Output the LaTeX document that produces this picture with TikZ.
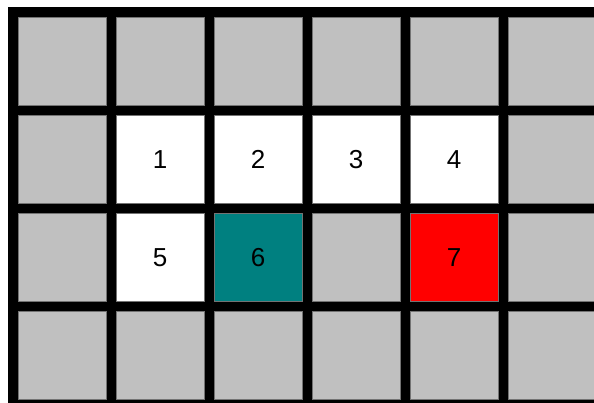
\documentclass[tikz,border=0pt]{standalone}
\usepackage{fontspec}
\setmainfont{Liberation Sans}
\definecolor{cellgray}{HTML}{C0C0C0}
\definecolor{cellteal}{HTML}{008080}
\definecolor{cellred}{HTML}{FF0000}
\begin{document}
\begin{tikzpicture}[x=1pt,y=-1pt,
  cell/.style={rectangle, anchor=north west, inner sep=0pt, minimum width=88pt, minimum height=88pt,
    fill=cellgray, draw=black!55, line width=0.4pt, font=\fontsize{26}{26}\selectfont},
  lastcol/.style={minimum width=86pt},
  white cell/.style={fill=white},
  teal cell/.style={fill=cellteal},
  red cell/.style={fill=cellred}]
\useasboundingbox (0,0) rectangle (594,403);
\fill[white] (0,0) rectangle (594,403);
\fill[black] (8,7) rectangle (594,403);
\foreach \j in {0,...,3}{
  \foreach \i in {0,...,4}{
    \node[cell] (c-\i-\j) at ({18+98*\i},{17+98*\j}) {};
  }
  \node[cell,lastcol] (c-5-\j) at (508,{17+98*\j}) {};
}
\node[cell,white cell] (n1) at (116,115) {1};
\node[cell,white cell] (n2) at (214,115) {2};
\node[cell,white cell] (n3) at (312,115) {3};
\node[cell,white cell] (n4) at (410,115) {4};
\node[cell,white cell] (n5) at (116,213) {5};
\node[cell,teal cell] (n6) at (214,213) {6};
\node[cell,red cell] (n7) at (410,213) {7};
\end{tikzpicture}
\end{document}
